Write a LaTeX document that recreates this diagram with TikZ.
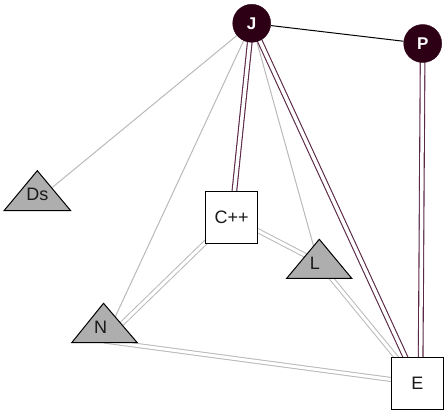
\documentclass[tikz,border=0pt]{standalone}
\usepackage{fontspec}
\setmainfont{Liberation Sans}
\usetikzlibrary{backgrounds}
\definecolor{darkmaroon}{RGB}{45,0,22}
\definecolor{plumline}{RGB}{90,40,70}
\definecolor{lightline}{RGB}{185,185,185}
\definecolor{trifill}{RGB}{174,174,174}
\definecolor{labtext}{RGB}{25,25,25}
\tikzset{
  circnode/.style={circle, fill=darkmaroon, draw=darkmaroon, minimum size=38pt, inner sep=0pt,
    text=white, font=\bfseries\fontsize{17}{17}\selectfont},
  boxnode/.style={rectangle, draw=black, line width=1pt, fill=white, minimum size=52pt, inner sep=0pt,
    text=labtext, font=\fontsize{18}{18}\selectfont},
  trishape/.style={draw=black, line width=1pt, fill=trifill, line join=miter},
  trilabel/.style={inner sep=0pt, text=labtext, font=\fontsize{18}{18}\selectfont},
  singlegray/.style={draw=lightline, line width=1pt},
  doublegray/.style={draw=lightline, line width=1pt, double=white, double distance=3pt},
  doubleplum/.style={draw=plumline, line width=1.1pt, double=white, double distance=3.5pt},
  blackedge/.style={draw=black, line width=1pt},
}
\begin{document}
\begin{tikzpicture}[x=1pt, y=-1pt]
\useasboundingbox (0,0) rectangle (447,413);
% nodes
\node[circnode] (J) at (251.7,23.3) {J};
\node[circnode] (P) at (422.7,43.5) {P};
\node[boxnode] (C) at (231.7,217) {C++};
\node[boxnode] (E) at (417.3,383) {E};
% triangle shapes
\draw[trishape] (37.3,170.7) -- (70.7,210.7) -- (4,210.7) -- cycle;
\node[trilabel] (DsLabel) at (37.3,194) {Ds};
\draw[trishape] (319.3,239.3) -- (351.7,278.3) -- (286.7,278.3) -- cycle;
\node[trilabel] (LLabel) at (315,263) {L};
\draw[trishape] (103.5,303.3) -- (137.3,342.7) -- (71.7,342.7) -- cycle;
\node[trilabel] (NLabel) at (100.7,327.5) {N};
% connector targets
\coordinate (Ds) at (37,200);
\coordinate (L) at (318,262);
\coordinate (N) at (104,341);
\coordinate (Etop) at (420.5,383);
\begin{pgfonlayer}{background}
\draw[singlegray] (J.center) -- (Ds);
\draw[singlegray] (J.center) -- (L);
\draw[singlegray] (J.center) -- (N);
\draw[doublegray] (C.center) -- (L);
\draw[doublegray] (C.center) -- (N);
\draw[doublegray] (N) -- (E.center);
\draw[doublegray] (L) -- (E.center);
\draw[doubleplum] (J.center) -- (C.center);
\draw[doubleplum] (J.center) -- (E.center);
\draw[doubleplum] (P.center) -- (Etop);
\draw[blackedge] (J) -- (P);
\end{pgfonlayer}
\end{tikzpicture}
\end{document}
